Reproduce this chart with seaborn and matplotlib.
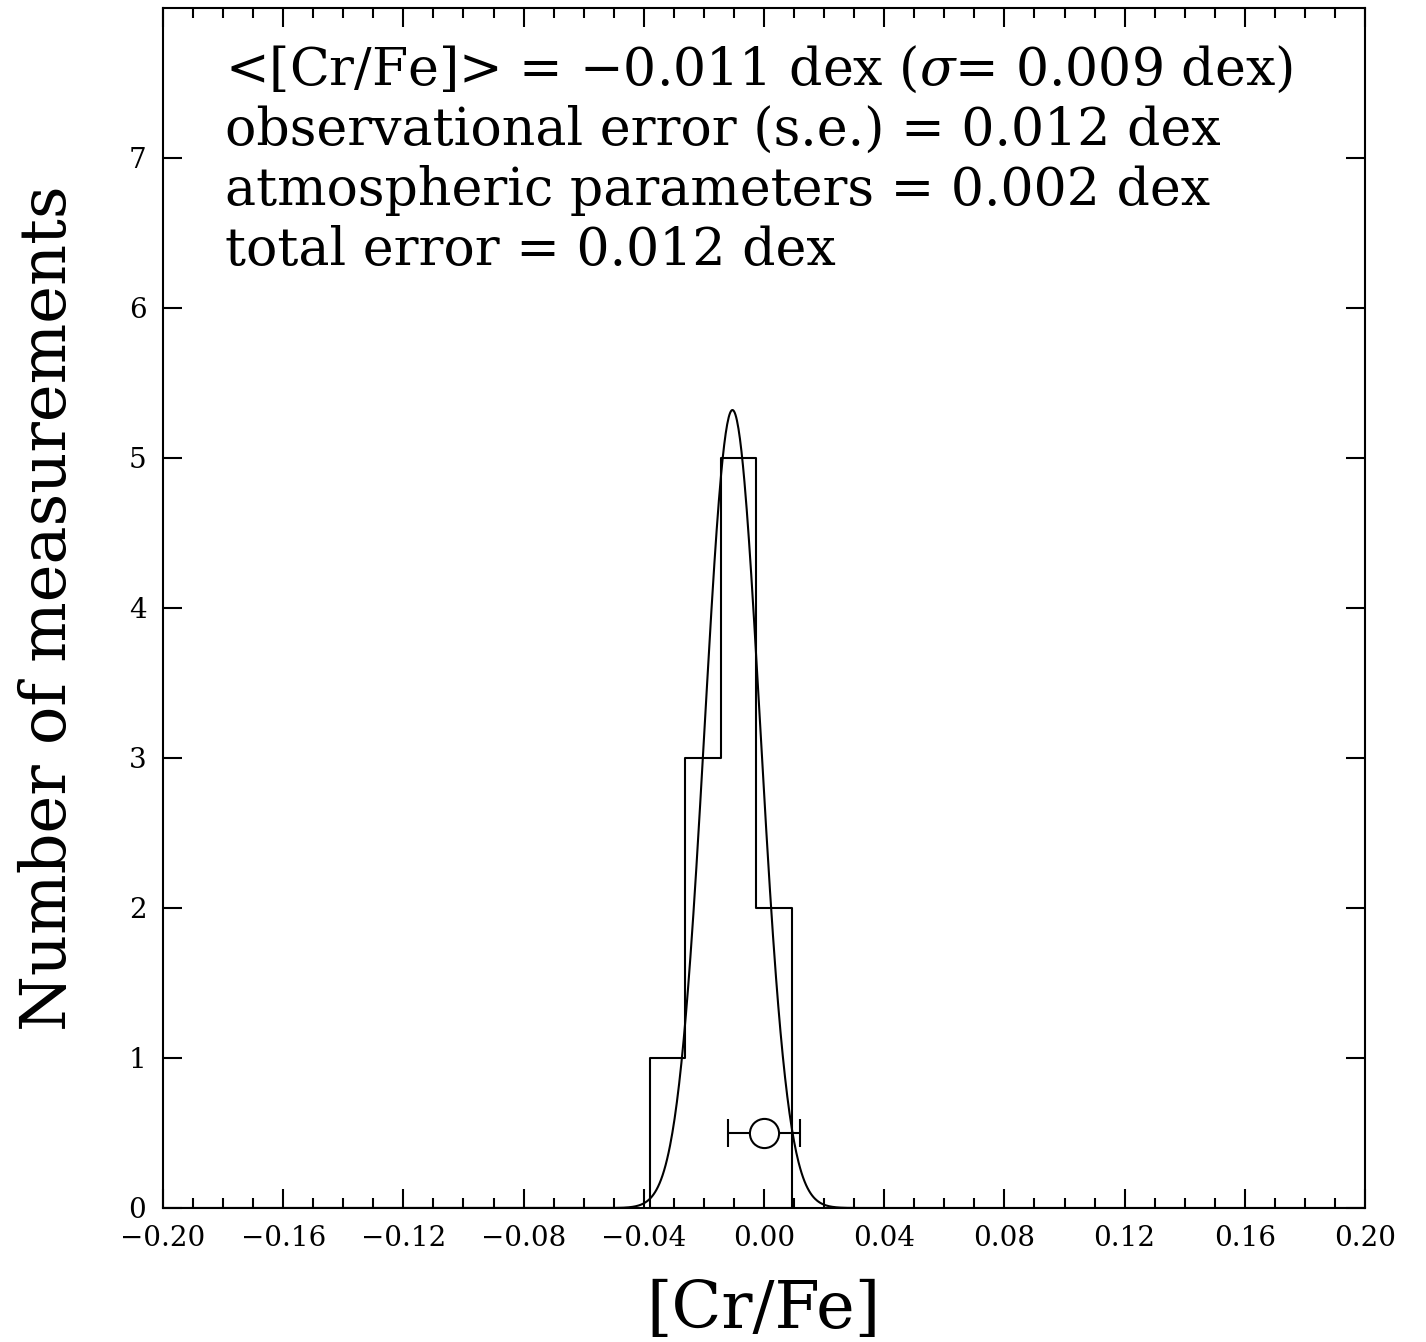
import numpy as np
import pandas as pd
import matplotlib
matplotlib.use("Agg")
import matplotlib.pyplot as plt
from matplotlib.ticker import MultipleLocator, FuncFormatter
import seaborn as sns

# histogram of [Cr/Fe] measurements
bin_edges = [-0.0379, -0.0264, -0.0143, -0.0025, 0.0092]
bin_counts = [1, 3, 5, 2]

# gaussian fit drawn over the histogram
fit_mean = -0.0105
fit_sigma = 0.0092
fit_peak = 5.32

# typical error symbol
point_x = 0.0
point_y = 0.5
point_err = 0.012

info_lines = [
    "<[Cr/Fe]> = \u22120.011 dex ($\\sigma$= 0.009 dex)",
    "observational error (s.e.) = 0.012 dex",
    "atmospheric parameters = 0.002 dex",
    "total error = 0.012 dex",
]

sns.set_theme(style="ticks")
plt.rcParams['font.family'] = ['DejaVu Serif']
plt.rcParams['mathtext.fontset'] = 'dejavuserif'
plt.rcParams['text.color'] = 'black'
plt.rcParams['axes.labelcolor'] = 'black'

centers = [(a + b) / 2 for a, b in zip(bin_edges[:-1], bin_edges[1:])]
hist_df = pd.DataFrame({"crfe": centers, "n": bin_counts})

xs = np.linspace(-0.2, 0.2, 1601)
fit_df = pd.DataFrame({"x": xs, "y": fit_peak * np.exp(-0.5 * ((xs - fit_mean) / fit_sigma) ** 2)})

fig = plt.figure(figsize=(14.26, 13.42), dpi=100)
ax = fig.add_axes([163 / 1426, 134 / 1342, 1202 / 1426, 1200 / 1342])

# step outline of the histogram, no inner bar edges
sns.histplot(data=hist_df, x="crfe", weights="n", bins=bin_edges, element="step",
             fill=True, color="black", facecolor="none", edgecolor="black",
             linewidth=1.5, ax=ax)
sns.lineplot(data=fit_df, x="x", y="y", color="black", linewidth=1.5, ax=ax)
ax.errorbar(point_x, point_y, xerr=point_err, fmt='o', ms=21, mfc='white', mec='black',
            mew=1.5, ecolor='black', elinewidth=1.5, capsize=10, capthick=1.5, zorder=5)

ax.set_xlim(-0.2, 0.2)
ax.set_ylim(0, 8)
ax.xaxis.set_major_locator(MultipleLocator(0.04))
ax.xaxis.set_minor_locator(MultipleLocator(0.01))
ax.set_yticks(range(0, 8))
ax.xaxis.set_major_formatter(FuncFormatter(lambda v, p: f"{round(v, 4) + 0.0:.2f}".replace("-", "\u2212")))

ax.tick_params(which='both', direction='in', top=True, right=True, width=1.5, colors='black')
ax.tick_params(which='major', length=14, labelsize=20, pad=12)
ax.tick_params(which='minor', length=7)
for s in ax.spines.values():
    s.set_linewidth(1.5)
    s.set_color('black')

ax.set_xlabel("[Cr/Fe]", fontsize=47)
ax.set_ylabel("Number of measurements", fontsize=46)
ax.xaxis.set_label_coords(0.5, -0.058)
ax.yaxis.set_label_coords(-0.070, 0.5)

for i, line in enumerate(info_lines):
    ax.text(0.0516, 0.9358 - i * 0.05, line, transform=ax.transAxes, fontsize=37.5,
            ha='left', va='baseline', color='black')

fig.savefig("out.png", dpi=100)
